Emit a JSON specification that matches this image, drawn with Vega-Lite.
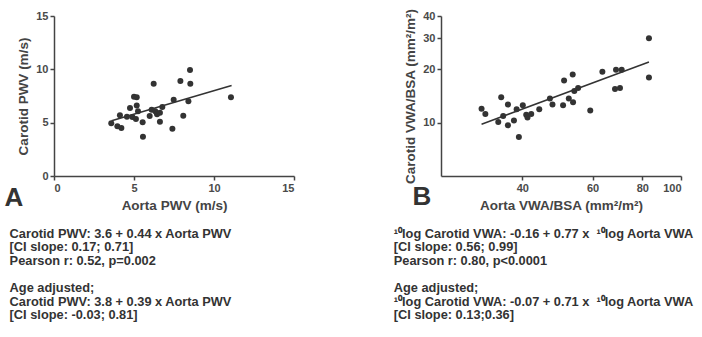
{
  "$schema": "https://vega.github.io/schema/vega-lite/v6.json",
  "padding": {"left": 4, "top": 8, "right": 2, "bottom": 2},
  "spacing": 98,
  "datasets": {
    "pwv": [
      {"aorta": 3.58, "carotid": 4.94}, {"aorta": 3.96, "carotid": 4.66}, {"aorta": 4.21, "carotid": 4.5},
      {"aorta": 4.12, "carotid": 5.69}, {"aorta": 4.56, "carotid": 5.56}, {"aorta": 4.75, "carotid": 6.38},
      {"aorta": 4.9, "carotid": 5.53}, {"aorta": 5.0, "carotid": 7.44}, {"aorta": 5.17, "carotid": 7.38},
      {"aorta": 5.17, "carotid": 6.6}, {"aorta": 5.25, "carotid": 6.06}, {"aorta": 5.12, "carotid": 5.34},
      {"aorta": 5.54, "carotid": 5.03}, {"aorta": 5.56, "carotid": 3.69}, {"aorta": 6.23, "carotid": 8.66},
      {"aorta": 6.1, "carotid": 6.22}, {"aorta": 5.98, "carotid": 5.63}, {"aorta": 6.33, "carotid": 6.06},
      {"aorta": 6.44, "carotid": 5.78}, {"aorta": 6.62, "carotid": 5.94}, {"aorta": 6.62, "carotid": 5.09},
      {"aorta": 6.77, "carotid": 6.47}, {"aorta": 7.48, "carotid": 7.16}, {"aorta": 7.4, "carotid": 4.44},
      {"aorta": 7.9, "carotid": 8.9}, {"aorta": 8.08, "carotid": 5.66}, {"aorta": 8.4, "carotid": 7.0},
      {"aorta": 8.5, "carotid": 9.94}, {"aorta": 8.52, "carotid": 8.66}, {"aorta": 11.06, "carotid": 7.38}
    ],
    "pwvFit": [{"aorta": 3.6, "carotid": 5.18}, {"aorta": 11.1, "carotid": 8.48}],
    "vwa": [
      {"aorta": 31.6, "carotid": 12.0}, {"aorta": 32.3, "carotid": 11.2}, {"aorta": 34.8, "carotid": 10.1},
      {"aorta": 35.4, "carotid": 13.9}, {"aorta": 35.8, "carotid": 10.9}, {"aorta": 36.8, "carotid": 9.66},
      {"aorta": 36.8, "carotid": 12.65}, {"aorta": 38.1, "carotid": 10.3}, {"aorta": 38.7, "carotid": 11.9},
      {"aorta": 39.2, "carotid": 8.3}, {"aorta": 40.1, "carotid": 12.55}, {"aorta": 40.9, "carotid": 11.1},
      {"aorta": 41.2, "carotid": 10.7}, {"aorta": 42.1, "carotid": 11.2}, {"aorta": 44.1, "carotid": 11.9},
      {"aorta": 46.9, "carotid": 13.7}, {"aorta": 47.6, "carotid": 12.65}, {"aorta": 50.6, "carotid": 12.55},
      {"aorta": 50.9, "carotid": 17.3}, {"aorta": 52.3, "carotid": 13.7}, {"aorta": 53.5, "carotid": 18.7},
      {"aorta": 53.6, "carotid": 13.05}, {"aorta": 54.0, "carotid": 15.1}, {"aorta": 55.2, "carotid": 15.7},
      {"aorta": 59.2, "carotid": 11.7}, {"aorta": 63.5, "carotid": 19.4}, {"aorta": 68.3, "carotid": 15.5},
      {"aorta": 68.7, "carotid": 19.9}, {"aorta": 70.3, "carotid": 15.7}, {"aorta": 71.0, "carotid": 19.9},
      {"aorta": 83.1, "carotid": 30.0}, {"aorta": 83.1, "carotid": 18.0}
    ],
    "vwaFit": [{"aorta": 31.6, "carotid": 9.8}, {"aorta": 83.1, "carotid": 22.0}]
  },
  "hconcat": [
    {
      "width": 240,
      "height": 160,
      "title": {
        "text": ["Carotid PWV: 3.6 + 0.44 x Aorta PWV", "[CI slope: 0.17; 0.71]", "Pearson r: 0.52, p=0.002"],
        "subtitle": ["Age adjusted;", "Carotid PWV: 3.8 + 0.39 x Aorta PWV", "[CI slope: -0.03; 0.81]"],
        "orient": "bottom", "anchor": "start", "dx": 5, "offset": 16
      },
      "layer": [
        {
          "data": {"name": "pwv"},
          "mark": {"type": "point", "filled": true, "size": 36, "color": "#333333", "opacity": 1},
          "encoding": {
            "x": {"field": "aorta", "type": "quantitative", "scale": {"domain": [0, 15], "nice": false, "zero": false}, "axis": {"values": [0, 5, 10, 15], "title": "Aorta PWV (m/s)"}},
            "y": {"field": "carotid", "type": "quantitative", "scale": {"domain": [0, 15], "nice": false, "zero": false}, "axis": {"values": [0, 5, 10, 15], "title": "Carotid PWV (m/s)"}}
          }
        },
        {
          "data": {"name": "pwvFit"},
          "mark": {"type": "line", "color": "#333333", "strokeWidth": 1.5},
          "encoding": {
            "x": {"field": "aorta", "type": "quantitative"},
            "y": {"field": "carotid", "type": "quantitative"}
          }
        },
        {
          "data": {"values": [{"letter": "A", "x": -2.5, "y": -2.1}]},
          "mark": {"type": "text", "fontSize": 26, "fontWeight": "bold", "color": "#333333", "align": "center", "baseline": "middle"},
          "encoding": {
            "x": {"field": "x", "type": "quantitative"},
            "y": {"field": "y", "type": "quantitative"},
            "text": {"field": "letter"}
          }
        }
      ]
    },
    {
      "width": 240,
      "height": 160,
      "title": {
        "text": ["¹⁰log Carotid VWA: -0.16 + 0.77 x\u00a0\u00a0¹⁰log Aorta VWA", "[CI slope: 0.56; 0.99]", "Pearson r: 0.80, p<0.0001"],
        "subtitle": ["Age adjusted;", "¹⁰log Carotid VWA: -0.07 + 0.71 x\u00a0\u00a0¹⁰log Aorta VWA", "[CI slope: 0.13;0.36]"],
        "orient": "bottom", "anchor": "start", "dx": -10, "offset": 16
      },
      "layer": [
        {
          "data": {"name": "vwa"},
          "mark": {"type": "point", "filled": true, "size": 36, "color": "#333333", "opacity": 1},
          "encoding": {
            "x": {"field": "aorta", "type": "quantitative", "scale": {"type": "log", "domain": [25, 100], "nice": false}, "axis": {"values": [40, 60, 80, 100], "title": "Aorta VWA/BSA (mm²/m²)"}},
            "y": {"field": "carotid", "type": "quantitative", "scale": {"type": "log", "domain": [5, 40], "nice": false}, "axis": {"values": [10, 20, 30, 40], "title": "Carotid VWA/BSA (mm²/m²)"}}
          }
        },
        {
          "data": {"name": "vwaFit"},
          "mark": {"type": "line", "color": "#333333", "strokeWidth": 1.5},
          "encoding": {
            "x": {"field": "aorta", "type": "quantitative"},
            "y": {"field": "carotid", "type": "quantitative"}
          }
        },
        {
          "data": {"values": [{"letter": "B", "x": 22.4, "y": 3.8}]},
          "mark": {"type": "text", "fontSize": 26, "fontWeight": "bold", "color": "#333333", "align": "center", "baseline": "middle"},
          "encoding": {
            "x": {"field": "x", "type": "quantitative"},
            "y": {"field": "y", "type": "quantitative"},
            "text": {"field": "letter"}
          }
        }
      ]
    }
  ],
  "config": {
    "font": "Liberation Sans",
    "view": {"stroke": null},
    "axis": {
      "grid": false,
      "domainColor": "#444444", "domainWidth": 1.5,
      "tickColor": "#444444", "tickWidth": 1.5, "tickSize": 4,
      "labelFont": "Liberation Sans", "labelFontSize": 11, "labelFontWeight": "bold", "labelColor": "#4a4a4a", "labelPadding": 2,
      "titleFont": "Liberation Sans", "titleFontSize": 13.5, "titleFontWeight": "bold", "titleColor": "#444444", "titlePadding": 5
    },
    "title": {
      "font": "Liberation Sans", "fontSize": 12.8, "fontWeight": "bold", "color": "#333333", "lineHeight": 13.5,
      "subtitleFont": "Liberation Sans", "subtitleFontSize": 12.8, "subtitleFontWeight": "bold", "subtitleColor": "#333333", "subtitleLineHeight": 13.5, "subtitlePadding": 15
    }
  }
}
